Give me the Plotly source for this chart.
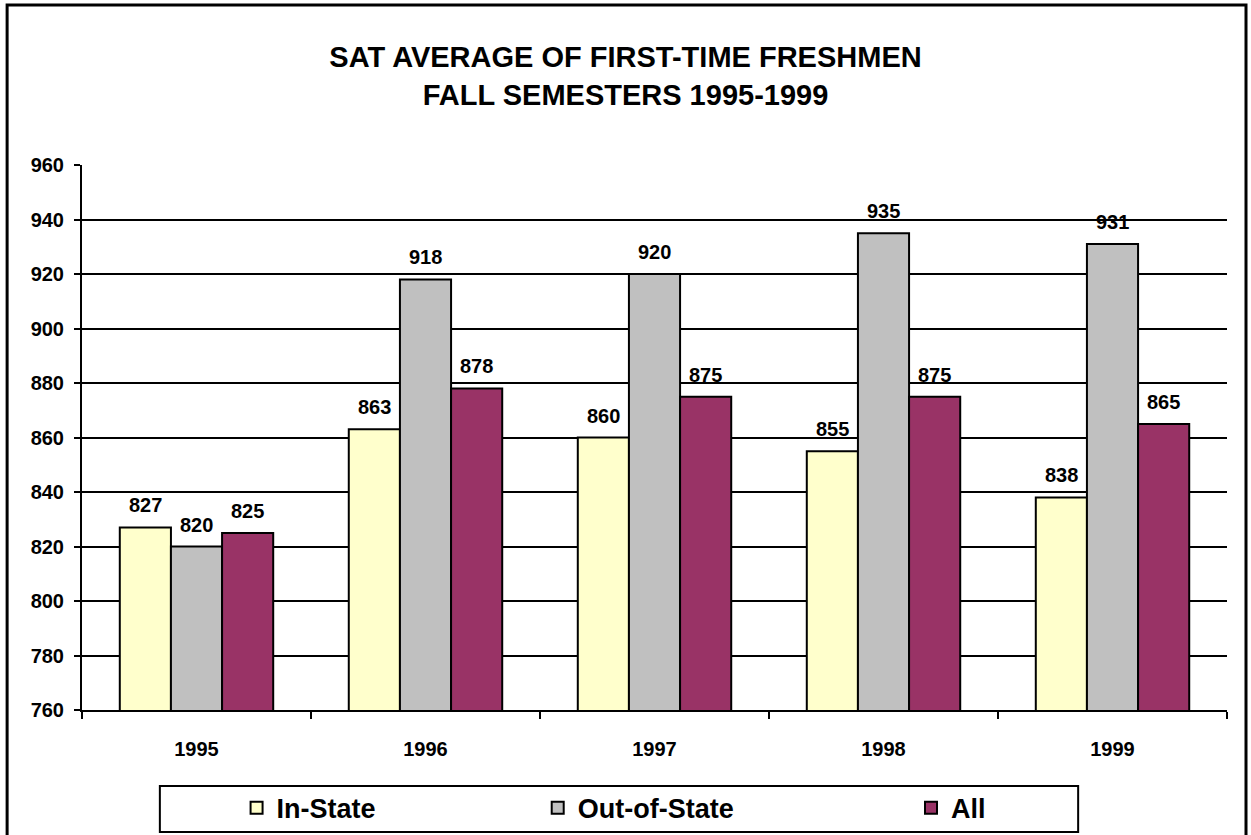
import plotly.graph_objects as go

years = ["1995", "1996", "1997", "1998", "1999"]
in_state = [827, 863, 860, 855, 838]
out_of_state = [820, 918, 920, 935, 931]
all_students = [825, 878, 875, 875, 865]

font = "Liberation Sans, Arial, sans-serif"

fig = go.Figure()
series = [
    ("In-State", in_state, "#FFFFCC", "legend"),
    ("Out-of-State", out_of_state, "#C0C0C0", "legend2"),
    ("All", all_students, "#993366", "legend3"),
]
for name, vals, color, leg in series:
    fig.add_trace(go.Bar(
        x=years, y=vals, name="<b>" + name + "</b>", legend=leg,
        marker=dict(color=color, line=dict(color="black", width=2)),
    ))

# value labels above each bar (offset by one bar width per series)
bar_w = 1146 / 5 * (1 - 0.33) / 3
for i, (name, vals, color, leg) in enumerate(series):
    for j, v in enumerate(vals):
        fig.add_annotation(x=j, y=v, text="<b>%d</b>" % v, showarrow=False,
                           xshift=(i - 1) * bar_w, yanchor="bottom", yshift=9,
                           font=dict(family=font, size=20, color="black"))

legend_style = dict(orientation="h", yanchor="middle", y=-0.18, bgcolor="rgba(0,0,0,0)",
                    font=dict(family=font, size=27, color="black"))

fig.update_layout(
    width=1251, height=835,
    margin=dict(l=82, r=24, t=165, b=125, autoexpand=False),
    plot_bgcolor="white", paper_bgcolor="white",
    barmode="group", bargap=0.33, bargroupgap=0,
    title=dict(text="<b>SAT AVERAGE OF FIRST-TIME FRESHMEN<br>FALL SEMESTERS 1995-1999</b>",
               x=0.5, xanchor="center", y=0.92, yanchor="middle",
               font=dict(family=font, size=29, color="black")),
    font=dict(family=font, color="black"),
    legend=dict(x=0.135, **legend_style),
    legend2=dict(x=0.398, **legend_style),
    legend3=dict(x=0.724, **legend_style),
    showlegend=True,
)

fig.update_xaxes(type="category", range=[-0.5, 4.5], showline=True, linecolor="black", linewidth=2,
                 ticks="outside", tickson="boundaries", ticklen=7, tickwidth=2, tickcolor="black",
                 ticklabelstandoff=20, tickprefix="<b>", ticksuffix="</b>",
                 tickfont=dict(family=font, size=20, color="black"))
fig.update_yaxes(range=[760, 960], dtick=20, showline=True, linecolor="black", linewidth=2,
                 ticks="outside", ticklen=6, tickwidth=2, tickcolor="black",
                 showgrid=True, gridcolor="black", gridwidth=2, zeroline=False,
                 ticklabelstandoff=6, tickprefix="<b>", ticksuffix="</b>",
                 tickfont=dict(family=font, size=20, color="black"))

# legend box and outer frame
fig.add_shape(type="rect", xref="paper", yref="paper", x0=0.068, x1=0.870, y0=-0.2239, y1=-0.1394,
              line=dict(color="black", width=2))
fig.add_shape(type="rect", xref="paper", yref="paper", x0=-0.0654, x1=1.0166, y0=-0.4, y1=1.2936,
              line=dict(color="black", width=3))

fig.write_html("out.html", config={"displayModeBar": False},
               post_script="document.body.style.margin='0';")
